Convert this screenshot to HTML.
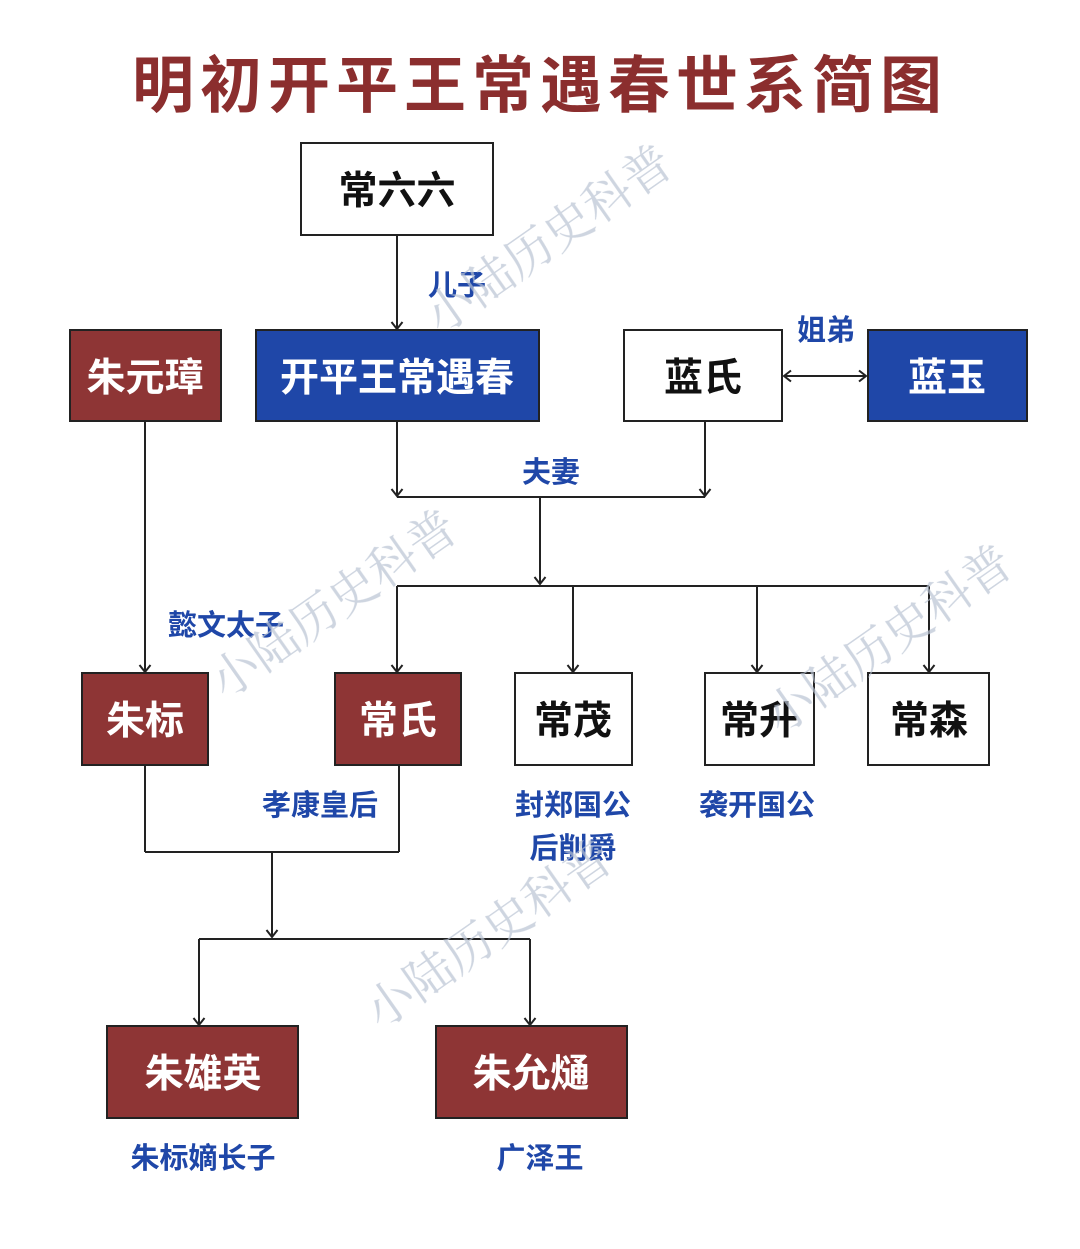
<!DOCTYPE html>
<html><head><meta charset="utf-8"><style>
body{margin:0;background:#fff}
svg{display:block}
.t{font-family:"Liberation Sans","Noto Sans CJK SC",sans-serif;font-weight:bold}
</style></head><body>
<svg width="1080" height="1249" viewBox="0 0 1080 1249" xmlns="http://www.w3.org/2000/svg">
<defs>
<marker id="h" markerWidth="14" markerHeight="14" refX="11" refY="7" orient="auto-start-reverse" markerUnits="userSpaceOnUse">
<path d="M4,1.5 L11,7 L4,12.5" fill="none" stroke="#222" stroke-width="2"/></marker></defs>
<text x="540" y="107" text-anchor="middle" class="t" font-size="62" fill="#8b2e2e" letter-spacing="6">明初开平王常遇春世系简图</text>
<g stroke="#222" stroke-width="2" fill="none">
<line x1="397" y1="235" x2="397" y2="329" marker-end="url(#h)"/>
<line x1="397" y1="421" x2="397" y2="496" marker-end="url(#h)"/>
<line x1="705" y1="421" x2="705" y2="496" marker-end="url(#h)"/>
<line x1="397" y1="497" x2="705" y2="497"/>
<line x1="540" y1="497" x2="540" y2="584" marker-end="url(#h)"/>
<line x1="397" y1="586" x2="929" y2="586"/>
<line x1="397" y1="586" x2="397" y2="672" marker-end="url(#h)"/>
<line x1="573" y1="586" x2="573" y2="672" marker-end="url(#h)"/>
<line x1="757" y1="586" x2="757" y2="672" marker-end="url(#h)"/>
<line x1="929" y1="586" x2="929" y2="672" marker-end="url(#h)"/>
<line x1="145" y1="421" x2="145" y2="672" marker-end="url(#h)"/>
<line x1="145" y1="765" x2="145" y2="852"/>
<line x1="399" y1="765" x2="399" y2="852"/>
<line x1="145" y1="852" x2="399" y2="852"/>
<line x1="272" y1="852" x2="272" y2="937" marker-end="url(#h)"/>
<line x1="199" y1="939" x2="530" y2="939"/>
<line x1="199" y1="939" x2="199" y2="1025" marker-end="url(#h)"/>
<line x1="530" y1="939" x2="530" y2="1025" marker-end="url(#h)"/>
<line x1="784" y1="376" x2="866" y2="376" marker-start="url(#h)" marker-end="url(#h)"/>
</g>
<g stroke="#222" stroke-width="2">
<rect x="301" y="143" width="192" height="92" fill="#fff"/>
<rect x="70" y="330" width="151" height="91" fill="#8e3535"/>
<rect x="256" y="330" width="283" height="91" fill="#1f47a8"/>
<rect x="624" y="330" width="158" height="91" fill="#fff"/>
<rect x="868" y="330" width="159" height="91" fill="#1f47a8"/>
<rect x="82" y="673" width="126" height="92" fill="#8e3535"/>
<rect x="335" y="673" width="126" height="92" fill="#8e3535"/>
<rect x="515" y="673" width="117" height="92" fill="#fff"/>
<rect x="705" y="673" width="109" height="92" fill="#fff"/>
<rect x="868" y="673" width="121" height="92" fill="#fff"/>
<rect x="107" y="1026" width="191" height="92" fill="#8e3535"/>
<rect x="436" y="1026" width="191" height="92" fill="#8e3535"/>
</g>
<g class="t" font-size="39" text-anchor="middle">
<text x="397" y="204" fill="#111">常六六</text>
<text x="145" y="391" fill="#fff">朱元璋</text>
<text x="397" y="391" fill="#fff">开平王常遇春</text>
<text x="703" y="391" fill="#111">蓝氏</text>
<text x="947" y="391" fill="#fff">蓝玉</text>
<text x="145" y="734" fill="#fff">朱标</text>
<text x="398" y="734" fill="#fff">常氏</text>
<text x="573" y="734" fill="#111">常茂</text>
<text x="759" y="734" fill="#111">常升</text>
<text x="929" y="734" fill="#111">常森</text>
<text x="203" y="1087" fill="#fff">朱雄英</text>
<text x="531" y="1087" fill="#fff">朱允熥</text>
</g>
<g class="t" font-size="29" text-anchor="middle" fill="#1f47a8">
<text x="457" y="295">儿子</text>
<text x="826" y="340">姐弟</text>
<text x="551" y="482">夫妻</text>
<text x="226" y="635">懿文太子</text>
<text x="320" y="815">孝康皇后</text>
<text x="573" y="815">封郑国公</text>
<text x="573" y="858">后削爵</text>
<text x="757" y="815">袭开国公</text>
<text x="203" y="1168">朱标嫡长子</text>
<text x="540" y="1168">广泽王</text>
</g>
<g font-family="'Noto Serif CJK SC',serif" font-size="48" fill="#b9c3d3" opacity="0.7">
<text transform="translate(440,335) rotate(-35)">小陆历史科普</text>
<text transform="translate(225,700) rotate(-35)">小陆历史科普</text>
<text transform="translate(780,735) rotate(-35)">小陆历史科普</text>
<text transform="translate(380,1030) rotate(-35)">小陆历史科普</text>
</g>
</svg>
</body></html>
